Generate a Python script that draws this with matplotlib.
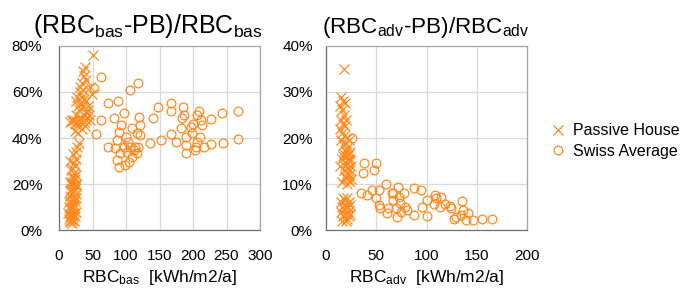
import matplotlib
matplotlib.use("Agg")
import matplotlib.pyplot as plt
from matplotlib.ticker import PercentFormatter

plt.rcParams['font.family'] = ['Liberation Sans', 'DejaVu Sans']
plt.rcParams['mathtext.fontset'] = 'custom'
plt.rcParams['mathtext.rm'] = 'Liberation Sans'
plt.rcParams['mathtext.it'] = 'Liberation Sans'

ORANGE = '#FF8A1F'

# left chart: (RBC_bas - PB) / RBC_bas, values in %
ph_bas_x = [50.5, 49, 47, 39, 36, 37, 34, 40, 32, 31, 27, 36, 41, 38, 33, 36, 29, 42, 44, 38,
            31, 26, 22, 17, 19, 24, 29, 34, 37, 40, 45, 27, 30, 35, 25, 43, 20, 32, 24, 28,
            39, 46,
            30.5, 27, 26, 21.5, 25, 16.5, 24, 19, 22,
            18, 22, 26, 20, 24, 16, 21, 25, 18, 23, 20, 26, 17, 22, 19, 24, 15, 21, 18, 23,
            16, 20, 25, 14, 19, 22, 17, 21, 15, 19, 23, 17, 20, 18, 24, 16, 25, 15, 22, 19,
            26, 17, 23, 20, 24, 16]
ph_bas_y = [76, 59, 62, 71, 69, 67, 64, 65, 62, 60, 58, 61, 56, 57, 55, 53.5, 54, 51, 52, 50,
            49, 50, 48, 47, 48, 46, 45.5, 44, 47, 48, 50, 47, 52, 58, 56, 54, 47.5, 47, 43, 42,
            45, 48,
            38, 36, 34, 33, 31, 30, 28, 27, 29,
            26, 25, 24, 23, 22, 21, 20, 19, 18, 17, 16, 15.5, 15, 14, 13, 12.5, 12, 11, 10, 9.5,
            9, 8.5, 8, 7.5, 7, 6.5, 6, 5.5, 5, 4.5, 4, 3.5, 3, 20, 18, 17, 14, 10, 23, 21,
            20, 12.5, 11, 5, 6, 4]

sw_bas_x = [62.5, 52, 118, 106.5, 72.5, 87.5, 62.5, 55.5, 81.5, 97.5, 92.5, 72.5, 84, 86.5,
            89, 100.5, 109, 119, 121.5, 116.5, 120.5, 102.5, 96.5, 106.5, 114, 91.5, 86.5, 89,
            99, 104, 109, 116.5, 117.5, 101.5, 111.5, 140.5, 147.5, 136.5, 152.5, 166.5, 166.5,
            167.5, 174, 185.5, 186.5, 184, 181.5, 189, 189, 189, 196.5, 200.5, 206.5, 209.5,
            202.5, 204, 210.5, 214, 216.5, 226.5, 227.5, 244, 245.5, 266.5, 266.5, 211.5,
            206.5, 199]
sw_bas_y = [66.4, 61.6, 64, 61, 55.4, 56.2, 47.8, 41.7, 48.6, 50.7, 45.7, 36.2, 35.5, 39,
            42.8, 40.6, 44.2, 49, 45.7, 42, 41.3, 38.4, 36.2, 36.2, 36.2, 33.3, 30.4, 27.5,
            28.3, 29.7, 31.9, 33.3, 36.2, 34, 34.8, 48.8, 53.3, 37.7, 39.1, 55, 51.7,
            41.7, 38.4, 53.3, 50, 48.6, 44.2, 40.6, 37, 33.3, 44.9, 46.1, 50, 51.7,
            34.8, 36.2, 40.3, 45.7, 36.2, 37.4, 48.3, 51, 37.7, 51.9, 39.4, 47.8,
            38.4, 42]

# right chart: (RBC_adv - PB) / RBC_adv, values in %
ph_adv_x = [18,
            15, 17, 14, 19, 16, 18, 15, 20, 17, 14, 19, 16, 18, 21, 15, 20, 23, 17, 22, 19,
            24, 18, 21, 16, 23, 20, 25, 19, 22, 24, 18, 21, 23, 20, 25, 22, 19, 24, 21, 16,
            17, 23, 14, 20, 22, 24,
            17, 21, 15, 19, 23, 16, 20, 24, 18, 22, 15, 19, 23, 17, 21, 16, 20, 18, 22, 24]
ph_adv_y = [35,
            29, 28, 27, 27.5, 26, 25, 24, 24, 23, 22, 22.5, 21, 20.5, 20, 19.5, 19, 19.5, 18.5,
            18, 17.5, 17, 16.5, 16, 15.5, 15, 14.5, 14, 14, 13.5, 13, 13, 12.5, 12, 11.5, 11,
            11, 11.5, 10.5, 10, 10.5, 16, 16.5, 14, 17, 15.5, 15.5,
            7, 7, 6, 6.5, 6, 5, 5, 5.5, 4.5, 4, 4, 3.5, 3, 3, 2.5, 2, 2, 5.5, 5, 3.5]

sw_adv_x = [26.2, 37.7, 49.7, 37, 47.7, 34.5, 41, 45.4, 53, 59.3, 49.7, 53, 53.6, 61.9,
            60.9, 65.2, 66.9, 66.2, 71.9, 72.9, 73.5, 69.5, 70.9, 77.5, 78.5, 81, 75, 87.4,
            95, 100, 96, 100, 87.4, 108.3, 107.3, 109.3, 114.9, 113.2, 118.2, 123.2, 124.8,
            135.8, 127.2, 129.8, 134.8, 136.4, 141.4, 139.7, 146.4, 155.6, 165.2]
sw_adv_y = [20.1, 14.6, 14.6, 12.5, 13, 8.1, 7.6, 8.6, 8.6, 9.9, 6.9, 5.4, 4.7, 4.7,
            3.6, 8, 8.1, 6.5, 9.4, 7.2, 5.8, 4.7, 2.8, 8, 5.1, 4.3, 4, 9.1,
            8.7, 6.5, 5.1, 3, 3.3, 7.6, 5.7, 7, 7.1, 4.9, 5.7, 5.2, 4.7,
            6.2, 2.5, 2.9, 3.3, 4.3, 3.6, 2.2, 2.2, 2.4, 2.4]

W, H = 694, 289
fig = plt.figure(figsize=(W / 100, H / 100), dpi=100)

ax1 = fig.add_axes([59 / W, (H - 230) / H, 201 / W, 184 / H])
ax2 = fig.add_axes([326 / W, (H - 230) / H, 201 / W, 184 / H])


def style(ax, xmax, xstep, ymax, ystep, ypad):
    ax.set_xlim(0, xmax)
    ax.set_ylim(0, ymax)
    ax.set_xticks(range(0, xmax + 1, xstep))
    ax.set_yticks([i * ystep for i in range(int(round(ymax / ystep)) + 1)])
    ax.yaxis.set_major_formatter(PercentFormatter(decimals=0))
    ax.grid(True, color='#d9d9d9', linewidth=0.9)
    ax.set_axisbelow(True)
    ax.tick_params(length=0, labelsize=11, colors='#000000')
    ax.tick_params(axis='x', pad=14)
    ax.tick_params(axis='y', pad=ypad)
    for s in ['left', 'bottom']:
        ax.spines[s].set_color('#707070')
    for s in ['top', 'right']:
        ax.spines[s].set_color('#a6a6a6')
    for s in ax.spines.values():
        s.set_linewidth(0.9)


style(ax1, 300, 50, 80, 20, 12)
style(ax2, 200, 50, 40, 10, 9.5)

for ax, px, py, sx, sy in [(ax1, ph_bas_x, ph_bas_y, sw_bas_x, sw_bas_y),
                           (ax2, ph_adv_x, ph_adv_y, sw_adv_x, sw_adv_y)]:
    ax.plot(px, py, 'x', ms=6.5, mew=0.9, color=ORANGE, label='Passive House', clip_on=False)
    ax.plot(sx, sy, 'o', ms=6.3, mew=0.9, mfc='none', mec=ORANGE, label='Swiss Average')

fig.text(148 / W, (H - 33) / H, r'(RBC$_{\mathrm{bas}}$-PB)/RBC$_{\mathrm{bas}}$',
         ha='center', va='baseline', fontsize=18)
fig.text(425.5 / W, (H - 33) / H, r'(RBC$_{\mathrm{adv}}$-PB)/RBC$_{\mathrm{adv}}$',
         ha='center', va='baseline', fontsize=16.2)
fig.text(159.5 / W, (H - 282) / H, r'RBC$_{\mathrm{bas}}$  [kWh/m2/a]',
         ha='center', va='baseline', fontsize=12.5)
fig.text(426.5 / W, (H - 282) / H, r'RBC$_{\mathrm{adv}}$  [kWh/m2/a]',
         ha='center', va='baseline', fontsize=12.5)

h, l = ax2.get_legend_handles_labels()
fig.legend(h, l, loc='center left', bbox_to_anchor=(552 / W, (H - 141) / H),
           frameon=False, fontsize=11.5, handlelength=0.8, handletextpad=0.5,
           labelspacing=0.35, borderpad=0, borderaxespad=0)

fig.savefig('out.png', dpi=100)
